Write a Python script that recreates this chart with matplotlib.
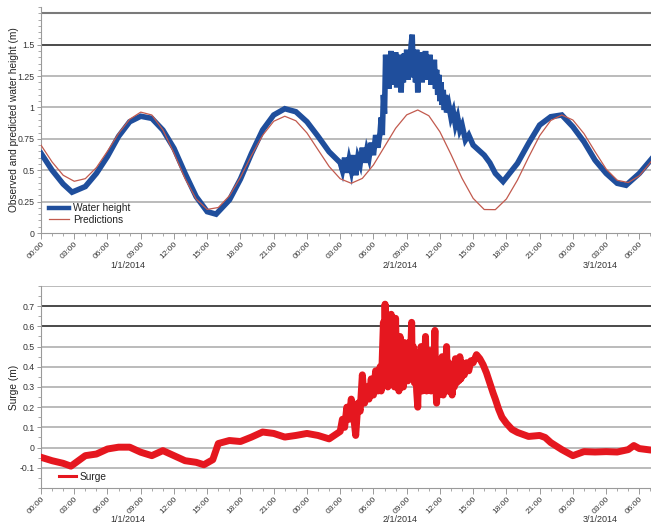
import matplotlib
matplotlib.use('Agg')
import matplotlib.pyplot as plt
from matplotlib.ticker import FixedLocator, MultipleLocator

plt.rcParams['font.family'] = ['Liberation Sans', 'DejaVu Sans']

# ---------------- data (hours since 00:00 1/1/2014) ----------------
pred_hours = list(range(0, 57))
pred_height = [0.70, 0.566, 0.46, 0.412, 0.433, 0.521, 0.652, 0.793, 0.906, 0.963,
               0.940, 0.821, 0.636, 0.434, 0.270, 0.188, 0.203, 0.296, 0.444, 0.618,
               0.778, 0.890, 0.930, 0.894, 0.797, 0.663, 0.530, 0.432, 0.396, 0.435,
               0.542, 0.688, 0.834, 0.941, 0.980, 0.934, 0.806, 0.626, 0.435, 0.276,
               0.187, 0.186, 0.271, 0.422, 0.603, 0.775, 0.896, 0.940, 0.900, 0.792,
               0.648, 0.510, 0.420, 0.402, 0.456, 0.562, 0.680]

obs_hours = [0, 1, 2, 2.8, 4, 5, 6, 7, 8, 9, 10, 11, 12, 13, 14, 15, 15.8, 17, 18, 19,
             20, 21, 22, 23, 24, 25, 26,
             27.0, 27.2, 27.4, 27.6, 27.8, 28.0, 28.2, 28.4, 28.6, 28.8, 29.0, 29.2,
             29.4, 29.6, 29.8, 30.0, 30.2, 30.4,
             30.6, 30.7, 30.8, 30.9, 31.0, 31.1, 31.2, 31.3, 31.4, 31.5, 31.6, 31.7,
             31.8, 31.9, 32.0, 32.1, 32.2, 32.3, 32.4, 32.5, 32.6, 32.7, 32.8, 32.9,
             33.0, 33.1, 33.2, 33.3, 33.4, 33.5, 33.6, 33.7, 33.8, 33.9, 34.0, 34.1,
             34.2, 34.3, 34.4, 34.5, 34.6, 34.7, 34.8, 34.9, 35.0, 35.1, 35.2, 35.3,
             35.4, 35.5, 35.6, 35.7, 35.8, 35.9, 36.0, 36.1, 36.2, 36.3, 36.4, 36.5,
             36.6, 36.8, 37.0, 37.2, 37.4, 37.6, 37.8, 38.0,
             38.3, 38.6, 39, 39.5, 40, 40.5, 41, 41.7, 43, 44, 45, 46, 47, 48, 49, 50,
             51, 52, 52.8, 54, 55, 56]
obs_height = [0.635, 0.50, 0.39, 0.325, 0.37, 0.475, 0.61, 0.77, 0.886, 0.93,
              0.913, 0.82, 0.674, 0.475, 0.29, 0.17, 0.15, 0.263, 0.43, 0.635,
              0.82, 0.94, 0.99, 0.966, 0.886, 0.77, 0.647,
              0.56, 0.50, 0.60, 0.48, 0.58, 0.50, 0.62, 0.46, 0.60, 0.55, 0.68, 0.56,
              0.66, 0.60, 0.72, 0.62, 0.78, 0.68,
              0.80, 0.92, 0.78, 1.10, 0.95, 1.42, 1.20, 1.38, 1.15, 1.35, 1.45, 1.18,
              1.40, 1.22, 1.44, 1.16, 1.36, 1.25, 1.42, 1.12, 1.38, 1.20, 1.43, 1.28,
              1.46, 1.22, 1.40, 1.30, 1.50, 1.58, 1.24, 1.45, 1.20, 1.46, 1.12, 1.40,
              1.25, 1.44, 1.20, 1.42, 1.28, 1.45, 1.22, 1.40, 1.26, 1.42, 1.18, 1.36,
              1.22, 1.38, 1.15, 1.30, 1.10, 1.26, 1.05, 1.20, 1.02, 1.14, 0.98, 1.10,
              0.96, 1.02, 0.92, 0.97, 0.86, 0.92, 0.82, 0.86,
              0.74, 0.78, 0.70, 0.66, 0.62, 0.56, 0.475, 0.41, 0.555, 0.714, 0.86,
              0.926, 0.94, 0.846, 0.727, 0.58,
              0.475, 0.396, 0.38, 0.475, 0.58, 0.68]

surge_hours = [0, 1, 2, 2.7, 4, 5, 6, 7, 8, 9, 10, 11, 12, 13, 14, 14.7, 15.5, 16, 17,
               18, 19, 20, 21, 22, 23, 24, 25, 26,
               27.0, 27.2, 27.4, 27.6, 27.8, 28.0, 28.2, 28.4, 28.6, 28.8, 29.0, 29.2,
               29.4, 29.6, 29.8, 30.0, 30.2, 30.4,
               30.6, 30.7, 30.8, 30.9, 31.0, 31.05, 31.1, 31.2, 31.3, 31.4, 31.5, 31.6,
               31.7, 31.8, 31.9, 32.0, 32.1, 32.2, 32.3, 32.4, 32.5, 32.6, 32.7, 32.8,
               32.9, 33.0, 33.1, 33.2, 33.3, 33.45, 33.5, 33.6, 33.7, 33.8, 33.9, 34.0,
               34.1, 34.2, 34.3, 34.4, 34.5, 34.6, 34.7, 34.8, 34.9, 35.0, 35.1, 35.2,
               35.3, 35.4, 35.55, 35.6, 35.7, 35.8, 35.9, 36.0, 36.1, 36.2, 36.3, 36.4,
               36.5, 36.6, 36.7, 36.8, 36.9, 37.0, 37.1, 37.2, 37.3, 37.4, 37.5, 37.6,
               37.7, 37.8, 37.9, 38.0, 38.2, 38.4, 38.6, 38.8, 39.0, 39.3, 39.6,
               39.9, 40.2, 40.5, 40.8, 41.0, 41.3, 41.6, 42.0, 42.5, 43.0, 44.0, 45.0,
               45.5, 46.0, 47.0, 48.0, 48.5, 49, 50, 51, 52, 53, 53.5, 54, 55, 56]
surge_value = [-0.048, -0.065, -0.078, -0.092, -0.04, -0.032, -0.007, 0.002, 0.002,
               -0.023, -0.04, -0.015, -0.04, -0.065, -0.073, -0.085, -0.06, 0.02,
               0.035, 0.03, 0.052, 0.077, 0.07, 0.052, 0.06, 0.07, 0.06, 0.043,
               0.08, 0.14, 0.10, 0.20, 0.14, 0.24, 0.16, 0.06, 0.22, 0.18, 0.36, 0.22,
               0.30, 0.24, 0.34, 0.26, 0.38, 0.28,
               0.40, 0.28, 0.45, 0.62, 0.33, 0.71, 0.40, 0.60, 0.30, 0.55, 0.35, 0.66,
               0.32, 0.50, 0.30, 0.64, 0.34, 0.52, 0.28, 0.55, 0.35, 0.50, 0.30, 0.52,
               0.38, 0.48, 0.33, 0.52, 0.36, 0.62, 0.35, 0.50, 0.32, 0.47, 0.28, 0.20,
               0.45, 0.30, 0.50, 0.28, 0.46, 0.34, 0.55, 0.28, 0.44, 0.32, 0.48, 0.28,
               0.46, 0.32, 0.58, 0.35, 0.22, 0.42, 0.26, 0.40, 0.28, 0.45, 0.26, 0.40,
               0.30, 0.50, 0.28, 0.42, 0.30, 0.38, 0.26, 0.40, 0.30, 0.44, 0.32, 0.40,
               0.33, 0.45, 0.34, 0.42, 0.36, 0.42, 0.38, 0.43, 0.42, 0.46, 0.44,
               0.41, 0.37, 0.32, 0.27, 0.24, 0.19, 0.15, 0.12, 0.09, 0.075, 0.055, 0.06,
               0.05, 0.025, -0.01, -0.04, -0.03, -0.02, -0.022, -0.02, -0.022, -0.01,
               0.01, -0.005, -0.012, -0.01]

hour_ticks = list(range(0, 55, 3))
hour_labels = ["00:00", "03:00", "06:00", "09:00", "12:00", "15:00", "18:00",
               "21:00", "00:00", "03:00", "06:00", "09:00", "12:00", "15:00",
               "18:00", "21:00", "00:00", "03:00", "06:00"]
date_labels = ["1/1/2014", "2/1/2014", "3/1/2014"]
date_label_hours = [7.85, 32.4, 50.45]

height_ticks = [0, 0.25, 0.5, 0.75, 1, 1.25, 1.5]
height_tick_labels = ["0", "0.25", "0.5", "0.75", "1", "1.25", "1.5"]
height_grid = [0.25, 0.5, 0.75, 1.0, 1.25, 1.5, 1.75]
surge_ticks = [-0.1, 0, 0.1, 0.2, 0.3, 0.4, 0.5, 0.6, 0.7]
surge_tick_labels = ["-0.1", "0", "0.1", "0.2", "0.3", "0.4", "0.5", "0.6", "0.7"]
surge_grid = [-0.1, 0.0, 0.1, 0.2, 0.3, 0.4, 0.5, 0.6, 0.7, 0.8]

# ---------------- styling ----------------
BLUE = '#1f4e9c'
PRED = '#c25a4e'
RED = '#e5171f'
SPINE = '#9a9a9a'
XMAX = 55.05

fig = plt.figure(figsize=(6.51, 5.28), dpi=100)
ax1 = fig.add_axes([0.063, 0.5587, 0.937, 0.428])
ax2 = fig.add_axes([0.063, 0.0758, 0.937, 0.3826])


def style_axis(ax, ylim, yticks, ylabels, grid, dark, ylabel, date_y):
    ax.set_xlim(0, XMAX)
    ax.set_ylim(*ylim)
    for g in grid:
        if g in dark:
            col, lw = dark[g]
        else:
            col, lw = '#a8a8a8', 1.1
        ax.axhline(g, color=col, lw=lw, zorder=1)
    for s in ['top', 'right']:
        ax.spines[s].set_visible(False)
    for s in ['left', 'bottom']:
        ax.spines[s].set_color(SPINE)
        ax.spines[s].set_linewidth(0.8)
    ax.xaxis.set_major_locator(FixedLocator(hour_ticks))
    ax.set_xticklabels(hour_labels, rotation=45, ha='right',
                       rotation_mode='anchor', fontsize=6.0, color='#333333')
    ax.xaxis.set_minor_locator(MultipleLocator(1))
    ax.yaxis.set_major_locator(FixedLocator(yticks))
    ax.set_yticklabels(ylabels, fontsize=6.3, color='#333333')
    ax.yaxis.set_minor_locator(MultipleLocator(0.05))
    ax.tick_params(axis='x', which='major', length=4, width=0.7, color=SPINE, pad=1.5)
    ax.tick_params(axis='x', which='minor', length=2, width=0.6, color=SPINE)
    ax.tick_params(axis='y', which='major', length=3, width=0.7, color=SPINE, pad=1.5)
    ax.tick_params(axis='y', which='minor', length=2, width=0.6, color=SPINE)
    ax.set_ylabel(ylabel, fontsize=7.3, color='#222222')
    for lab, hx in zip(date_labels, date_label_hours):
        ax.text(hx, date_y, lab, transform=ax.get_xaxis_transform(),
                ha='center', va='center', fontsize=6.5, color='#333333')


style_axis(ax1, (0, 1.8), height_ticks, height_tick_labels, height_grid,
           {1.5: ('#1a1a1a', 1.1), 1.75: ('#7a7a7a', 1.5)},
           'Observed and predicted water height (m)', -0.142)
style_axis(ax2, (-0.2, 0.8), surge_ticks, surge_tick_labels, surge_grid,
           {0.7: ('#4a4a4a', 1.4), 0.6: ('#4a4a4a', 1.4)},
           'Surge (m)', -0.158)

ax1.plot(obs_hours, obs_height, color=BLUE, lw=4.0, solid_joinstyle='miter',
         zorder=3, label='Water height')
ax1.plot(pred_hours, pred_height, color=PRED, lw=0.9, zorder=4, label='Predictions')
ax2.plot(surge_hours, surge_value, color=RED, lw=5.0, zorder=3, label='Surge')

ax1.yaxis.set_label_coords(-0.036, 0.5)
ax2.yaxis.set_label_coords(-0.036, 0.5)

leg1 = ax1.legend(loc='lower left', bbox_to_anchor=(0.003, 0.01), frameon=False,
                  fontsize=7.3, handlelength=2.0, handletextpad=0.4,
                  labelspacing=0.15, borderaxespad=0.2)
leg2 = ax2.legend(loc='lower left', bbox_to_anchor=(0.02, 0.0), frameon=False,
                  fontsize=7.3, handlelength=1.6, handletextpad=0.4,
                  borderaxespad=0.2)
leg1.get_lines()[0].set_linewidth(3.2)
leg2.get_lines()[0].set_linewidth(2.2)
for leg in (leg1, leg2):
    for t in leg.get_texts():
        t.set_color('#222222')

fig.savefig('out.png', dpi=100)
